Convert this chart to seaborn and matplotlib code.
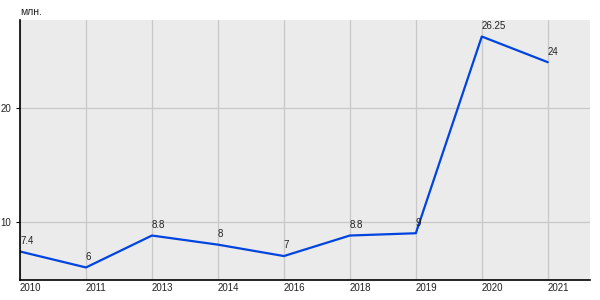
import matplotlib
matplotlib.use("Agg")
import matplotlib.pyplot as plt
import seaborn as sns
import pandas as pd

years = ["2010", "2011", "2013", "2014", "2016", "2018", "2019", "2020", "2021"]
values = [7.4, 6, 8.8, 8, 7, 8.8, 9, 26.25, 24]
labels = ["7.4", "6", "8.8", "8", "7", "8.8", "9", "26.25", "24"]
unit = "млн."

sns.set_theme(style="whitegrid")
plt.rcParams["font.family"] = ["Liberation Sans", "DejaVu Sans"]

df = pd.DataFrame({"year": years, "value": values})
df["pos"] = range(len(years))

fig = plt.figure(figsize=(6, 3), dpi=100)
ax = fig.add_axes([20/600, 20/300, 570/600, 260/300])
ax.set_facecolor("#ebebeb")
sns.lineplot(data=df, x="pos", y="value", ax=ax, color="#0044e0", linewidth=1.6)

for p, v, t in zip(df["pos"], values, labels):
    ax.annotate(t, (p, v), xytext=(0, 4), textcoords="offset points",
                ha="left", va="bottom", fontsize=7, color="#222222")

ax.set_xlim(0, 8.64)
ax.set_ylim(4.9, 27.7)
ax.set_xticks(df["pos"])
ax.set_xticklabels(years, ha="left")
ax.set_yticks([10, 20])
ax.tick_params(axis="both", labelsize=7, colors="#222222", length=3, width=0.8)
ax.tick_params(axis="x", length=0, pad=2.5)
ax.tick_params(axis="y", left=True, color="black")
ax.grid(True, color="#c8c8c8", linewidth=0.9)
ax.set_xlabel("")
ax.set_ylabel("")
for s in ["top", "right"]:
    ax.spines[s].set_visible(False)
for s in ["left", "bottom"]:
    ax.spines[s].set_color("black")
    ax.spines[s].set_linewidth(1.2)
fig.text(20/600, 1 - 12/300, unit, fontsize=7.5, color="#222222", ha="left", va="center")
fig.savefig("out.png", dpi=100)
